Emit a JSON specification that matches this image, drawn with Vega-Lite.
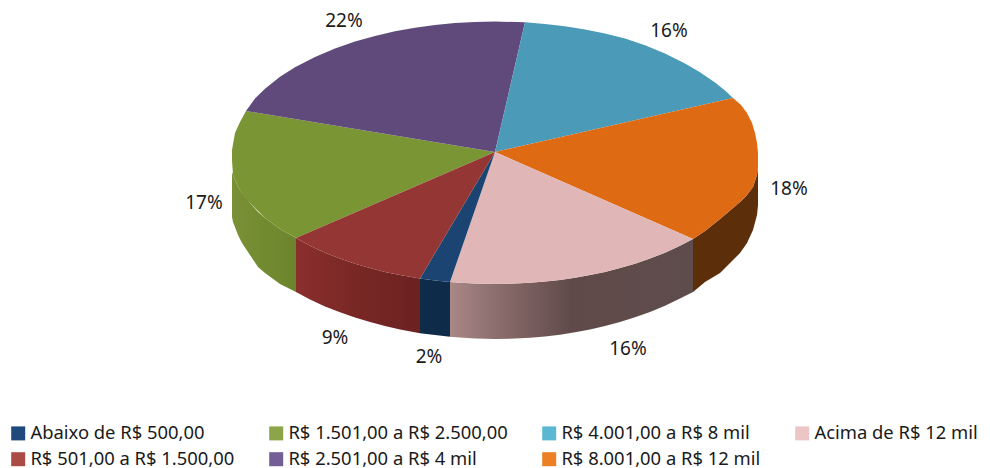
{
"$schema":"https://vega.github.io/schema/vega-lite/v6.json",
"width":990,"height":468,"autosize":{"type":"none"},"padding":0,"background":"white",
"config":{"view":{"stroke":null},"font":"Noto Sans"},
"datasets":{
"slices":[
{"slice":"Abaixo de R$ 500,00","pct":"2%","lx":429,"ly":357},
{"slice":"R$ 1.501,00 a R$ 2.500,00","pct":"17%","lx":204,"ly":203},
{"slice":"R$ 4.001,00 a R$ 8 mil","pct":"16%","lx":669,"ly":31},
{"slice":"Acima de R$ 12 mil","pct":"16%","lx":628,"ly":349},
{"slice":"R$ 501,00 a R$ 1.500,00","pct":"9%","lx":335,"ly":338},
{"slice":"R$ 2.501,00 a  R$ 4 mil","pct":"22%","lx":344,"ly":21},
{"slice":"R$ 8.001,00 a R$ 12 mil","pct":"18%","lx":789,"ly":189}
],
"wall":[
{"slice":"green","x":232,"top":172,"bottom":217},
{"slice":"green","x":233,"top":175,"bottom":222},
{"slice":"green","x":238,"top":187,"bottom":235},
{"slice":"green","x":242,"top":193,"bottom":243},
{"slice":"green","x":250,"top":203,"bottom":255},
{"slice":"green","x":258,"top":212,"bottom":267},
{"slice":"green","x":265,"top":218,"bottom":273},
{"slice":"green","x":280,"top":229,"bottom":284},
{"slice":"green","x":296,"top":238,"bottom":292},
{"slice":"red","x":296,"top":238,"bottom":292},
{"slice":"red","x":310,"top":245.8,"bottom":299.4},
{"slice":"red","x":325,"top":252.7,"bottom":306.5},
{"slice":"red","x":340,"top":258.6,"bottom":312.3},
{"slice":"red","x":355,"top":263.7,"bottom":317.5},
{"slice":"red","x":370,"top":268.1,"bottom":322},
{"slice":"red","x":385,"top":271.9,"bottom":326},
{"slice":"red","x":400,"top":275.1,"bottom":329.6},
{"slice":"red","x":420,"top":278.5,"bottom":333.3},
{"slice":"navy","x":420,"top":278.5,"bottom":333.3},
{"slice":"navy","x":435,"top":280.5,"bottom":335},
{"slice":"navy","x":450,"top":282,"bottom":336.8},
{"slice":"pink","x":450,"top":282,"bottom":336.8},
{"slice":"pink","x":460,"top":282.8,"bottom":337.6},
{"slice":"pink","x":475,"top":283.6,"bottom":338.6},
{"slice":"pink","x":495,"top":284,"bottom":339},
{"slice":"pink","x":515,"top":283.6,"bottom":338.6},
{"slice":"pink","x":530,"top":282.8,"bottom":337.8},
{"slice":"pink","x":545,"top":281.6,"bottom":336.6},
{"slice":"pink","x":560,"top":279.9,"bottom":334.7},
{"slice":"pink","x":575,"top":277.7,"bottom":332.2},
{"slice":"pink","x":590,"top":275.1,"bottom":329.4},
{"slice":"pink","x":605,"top":271.9,"bottom":325.9},
{"slice":"pink","x":620,"top":268.1,"bottom":321.9},
{"slice":"pink","x":635,"top":263.7,"bottom":317.2},
{"slice":"pink","x":650,"top":258.6,"bottom":311.9},
{"slice":"pink","x":665,"top":252.7,"bottom":305.7},
{"slice":"pink","x":680,"top":245.8,"bottom":298.6},
{"slice":"pink","x":693,"top":239,"bottom":292},
{"slice":"orange","x":693,"top":239,"bottom":292},
{"slice":"orange","x":705,"top":231,"bottom":282},
{"slice":"orange","x":720,"top":219,"bottom":273},
{"slice":"orange","x":733,"top":208,"bottom":260},
{"slice":"orange","x":740,"top":202,"bottom":253},
{"slice":"orange","x":747,"top":195,"bottom":243},
{"slice":"orange","x":753,"top":187,"bottom":230},
{"slice":"orange","x":757,"top":175,"bottom":215},
{"slice":"orange","x":758,"top":167,"bottom":205}
],
"top":[
{"slice":"R$ 1.501,00 a R$ 2.500,00","o":0,"x":495,"y":152},
{"slice":"R$ 1.501,00 a R$ 2.500,00","o":1,"x":296,"y":238},
{"slice":"R$ 1.501,00 a R$ 2.500,00","o":2,"x":280,"y":229},
{"slice":"R$ 1.501,00 a R$ 2.500,00","o":3,"x":265,"y":218},
{"slice":"R$ 1.501,00 a R$ 2.500,00","o":4,"x":255,"y":208},
{"slice":"R$ 1.501,00 a R$ 2.500,00","o":5,"x":245,"y":198},
{"slice":"R$ 1.501,00 a R$ 2.500,00","o":6,"x":238,"y":187},
{"slice":"R$ 1.501,00 a R$ 2.500,00","o":7,"x":233,"y":175},
{"slice":"R$ 1.501,00 a R$ 2.500,00","o":8,"x":232,"y":160},
{"slice":"R$ 1.501,00 a R$ 2.500,00","o":9,"x":232,"y":150},
{"slice":"R$ 1.501,00 a R$ 2.500,00","o":10,"x":235,"y":133},
{"slice":"R$ 1.501,00 a R$ 2.500,00","o":11,"x":240,"y":122},
{"slice":"R$ 1.501,00 a R$ 2.500,00","o":12,"x":246,"y":111},
{"slice":"R$ 1.501,00 a R$ 2.500,00","o":13,"x":495,"y":152},
{"slice":"R$ 2.501,00 a  R$ 4 mil","o":0,"x":495,"y":152},
{"slice":"R$ 2.501,00 a  R$ 4 mil","o":1,"x":246,"y":111},
{"slice":"R$ 2.501,00 a  R$ 4 mil","o":2,"x":255,"y":98.6},
{"slice":"R$ 2.501,00 a  R$ 4 mil","o":3,"x":265,"y":88.7},
{"slice":"R$ 2.501,00 a  R$ 4 mil","o":4,"x":280,"y":76.8},
{"slice":"R$ 2.501,00 a  R$ 4 mil","o":5,"x":295,"y":67.3},
{"slice":"R$ 2.501,00 a  R$ 4 mil","o":6,"x":315,"y":56.9},
{"slice":"R$ 2.501,00 a  R$ 4 mil","o":7,"x":335,"y":48.4},
{"slice":"R$ 2.501,00 a  R$ 4 mil","o":8,"x":355,"y":41.5},
{"slice":"R$ 2.501,00 a  R$ 4 mil","o":9,"x":375,"y":35.9},
{"slice":"R$ 2.501,00 a  R$ 4 mil","o":10,"x":395,"y":31.3},
{"slice":"R$ 2.501,00 a  R$ 4 mil","o":11,"x":415,"y":27.7},
{"slice":"R$ 2.501,00 a  R$ 4 mil","o":12,"x":435,"y":24.9},
{"slice":"R$ 2.501,00 a  R$ 4 mil","o":13,"x":455,"y":23},
{"slice":"R$ 2.501,00 a  R$ 4 mil","o":14,"x":475,"y":21.9},
{"slice":"R$ 2.501,00 a  R$ 4 mil","o":15,"x":495,"y":21.5},
{"slice":"R$ 2.501,00 a  R$ 4 mil","o":16,"x":525,"y":22.3},
{"slice":"R$ 2.501,00 a  R$ 4 mil","o":17,"x":495,"y":152},
{"slice":"R$ 4.001,00 a R$ 8 mil","o":0,"x":495,"y":152},
{"slice":"R$ 4.001,00 a R$ 8 mil","o":1,"x":525,"y":22.3},
{"slice":"R$ 4.001,00 a R$ 8 mil","o":2,"x":545,"y":23.9},
{"slice":"R$ 4.001,00 a R$ 8 mil","o":3,"x":565,"y":26.2},
{"slice":"R$ 4.001,00 a R$ 8 mil","o":4,"x":585,"y":29.4},
{"slice":"R$ 4.001,00 a R$ 8 mil","o":5,"x":605,"y":33.5},
{"slice":"R$ 4.001,00 a R$ 8 mil","o":6,"x":625,"y":38.6},
{"slice":"R$ 4.001,00 a R$ 8 mil","o":7,"x":645,"y":45.3},
{"slice":"R$ 4.001,00 a R$ 8 mil","o":8,"x":665,"y":53.4},
{"slice":"R$ 4.001,00 a R$ 8 mil","o":9,"x":685,"y":63.5},
{"slice":"R$ 4.001,00 a R$ 8 mil","o":10,"x":700,"y":72.3},
{"slice":"R$ 4.001,00 a R$ 8 mil","o":11,"x":715,"y":82.5},
{"slice":"R$ 4.001,00 a R$ 8 mil","o":12,"x":725,"y":90.5},
{"slice":"R$ 4.001,00 a R$ 8 mil","o":13,"x":733,"y":98},
{"slice":"R$ 4.001,00 a R$ 8 mil","o":14,"x":495,"y":152},
{"slice":"R$ 8.001,00 a R$ 12 mil","o":0,"x":495,"y":152},
{"slice":"R$ 8.001,00 a R$ 12 mil","o":1,"x":733,"y":98},
{"slice":"R$ 8.001,00 a R$ 12 mil","o":2,"x":741,"y":105},
{"slice":"R$ 8.001,00 a R$ 12 mil","o":3,"x":747,"y":113},
{"slice":"R$ 8.001,00 a R$ 12 mil","o":4,"x":752,"y":123},
{"slice":"R$ 8.001,00 a R$ 12 mil","o":5,"x":755,"y":133},
{"slice":"R$ 8.001,00 a R$ 12 mil","o":6,"x":757,"y":143},
{"slice":"R$ 8.001,00 a R$ 12 mil","o":7,"x":758,"y":153},
{"slice":"R$ 8.001,00 a R$ 12 mil","o":8,"x":758,"y":167},
{"slice":"R$ 8.001,00 a R$ 12 mil","o":9,"x":757,"y":175},
{"slice":"R$ 8.001,00 a R$ 12 mil","o":10,"x":753,"y":187},
{"slice":"R$ 8.001,00 a R$ 12 mil","o":11,"x":747,"y":195},
{"slice":"R$ 8.001,00 a R$ 12 mil","o":12,"x":740,"y":202},
{"slice":"R$ 8.001,00 a R$ 12 mil","o":13,"x":733,"y":208},
{"slice":"R$ 8.001,00 a R$ 12 mil","o":14,"x":720,"y":219},
{"slice":"R$ 8.001,00 a R$ 12 mil","o":15,"x":705,"y":231},
{"slice":"R$ 8.001,00 a R$ 12 mil","o":16,"x":693,"y":239},
{"slice":"R$ 8.001,00 a R$ 12 mil","o":17,"x":495,"y":152},
{"slice":"Acima de R$ 12 mil","o":0,"x":495,"y":152},
{"slice":"Acima de R$ 12 mil","o":1,"x":693,"y":239},
{"slice":"Acima de R$ 12 mil","o":2,"x":680,"y":245.8},
{"slice":"Acima de R$ 12 mil","o":3,"x":665,"y":252.7},
{"slice":"Acima de R$ 12 mil","o":4,"x":650,"y":258.6},
{"slice":"Acima de R$ 12 mil","o":5,"x":635,"y":263.7},
{"slice":"Acima de R$ 12 mil","o":6,"x":620,"y":268.1},
{"slice":"Acima de R$ 12 mil","o":7,"x":605,"y":271.9},
{"slice":"Acima de R$ 12 mil","o":8,"x":590,"y":275.1},
{"slice":"Acima de R$ 12 mil","o":9,"x":575,"y":277.7},
{"slice":"Acima de R$ 12 mil","o":10,"x":560,"y":279.9},
{"slice":"Acima de R$ 12 mil","o":11,"x":545,"y":281.6},
{"slice":"Acima de R$ 12 mil","o":12,"x":530,"y":282.8},
{"slice":"Acima de R$ 12 mil","o":13,"x":515,"y":283.6},
{"slice":"Acima de R$ 12 mil","o":14,"x":495,"y":284},
{"slice":"Acima de R$ 12 mil","o":15,"x":475,"y":283.6},
{"slice":"Acima de R$ 12 mil","o":16,"x":460,"y":282.8},
{"slice":"Acima de R$ 12 mil","o":17,"x":450,"y":282},
{"slice":"Acima de R$ 12 mil","o":18,"x":495,"y":152},
{"slice":"Abaixo de R$ 500,00","o":0,"x":495,"y":152},
{"slice":"Abaixo de R$ 500,00","o":1,"x":450,"y":282},
{"slice":"Abaixo de R$ 500,00","o":2,"x":435,"y":280.5},
{"slice":"Abaixo de R$ 500,00","o":3,"x":420,"y":278.5},
{"slice":"Abaixo de R$ 500,00","o":4,"x":495,"y":152},
{"slice":"R$ 501,00 a R$ 1.500,00","o":0,"x":495,"y":152},
{"slice":"R$ 501,00 a R$ 1.500,00","o":1,"x":420,"y":278.5},
{"slice":"R$ 501,00 a R$ 1.500,00","o":2,"x":400,"y":275.1},
{"slice":"R$ 501,00 a R$ 1.500,00","o":3,"x":385,"y":271.9},
{"slice":"R$ 501,00 a R$ 1.500,00","o":4,"x":370,"y":268.1},
{"slice":"R$ 501,00 a R$ 1.500,00","o":5,"x":355,"y":263.7},
{"slice":"R$ 501,00 a R$ 1.500,00","o":6,"x":340,"y":258.6},
{"slice":"R$ 501,00 a R$ 1.500,00","o":7,"x":325,"y":252.7},
{"slice":"R$ 501,00 a R$ 1.500,00","o":8,"x":310,"y":245.8},
{"slice":"R$ 501,00 a R$ 1.500,00","o":9,"x":296,"y":238},
{"slice":"R$ 501,00 a R$ 1.500,00","o":10,"x":495,"y":152}
]
},
"encoding":{
"x":{"type":"quantitative","scale":{"domain":[0,990],"nice":false,"zero":false},"axis":null},
"y":{"type":"quantitative","scale":{"domain":[468,0],"nice":false,"zero":false},"axis":null}
},
"layer":[
{"data":{"name":"wall"},"transform":[{"filter":"datum.slice==='green'"}],
 "mark":{"type":"area","color":{"gradient":"linear","x1":0,"x2":1,"y1":0,"y2":0,"stops":[{"offset":0,"color":"#7A9038"},{"offset":0.4,"color":"#748C30"},{"offset":1,"color":"#6C842D"}]}},
 "encoding":{"x":{"field":"x","type":"quantitative"},"y":{"field":"top","type":"quantitative"},"y2":{"field":"bottom"}}},
{"data":{"name":"wall"},"transform":[{"filter":"datum.slice==='red'"}],
 "mark":{"type":"area","color":{"gradient":"linear","x1":0,"x2":1,"y1":0,"y2":0,"stops":[{"offset":0,"color":"#8A2F2D"},{"offset":0.5,"color":"#782725"},{"offset":1,"color":"#6B2221"}]}},
 "encoding":{"x":{"field":"x","type":"quantitative"},"y":{"field":"top","type":"quantitative"},"y2":{"field":"bottom"}}},
{"data":{"name":"wall"},"transform":[{"filter":"datum.slice==='navy'"}],
 "mark":{"type":"area","color":"#0F2B4A"},
 "encoding":{"x":{"field":"x","type":"quantitative"},"y":{"field":"top","type":"quantitative"},"y2":{"field":"bottom"}}},
{"data":{"name":"wall"},"transform":[{"filter":"datum.slice==='pink'"}],
 "mark":{"type":"area","color":{"gradient":"linear","x1":0,"x2":1,"y1":0,"y2":0,"stops":[{"offset":0,"color":"#A98887"},{"offset":0.2,"color":"#8A6C6C"},{"offset":0.5,"color":"#604A49"},{"offset":1,"color":"#5E4C4C"}]}},
 "encoding":{"x":{"field":"x","type":"quantitative"},"y":{"field":"top","type":"quantitative"},"y2":{"field":"bottom"}}},
{"data":{"name":"wall"},"transform":[{"filter":"datum.slice==='orange'"}],
 "mark":{"type":"area","color":"#5C2E09"},
 "encoding":{"x":{"field":"x","type":"quantitative"},"y":{"field":"top","type":"quantitative"},"y2":{"field":"bottom"}}},
{"data":{"name":"top"},
 "mark":{"type":"line","filled":true,"strokeWidth":0.5,"strokeJoin":"round"},
 "encoding":{
  "x":{"field":"x","type":"quantitative"},"y":{"field":"y","type":"quantitative"},
  "order":{"field":"o","type":"quantitative"},
  "fill":{"field":"slice","type":"nominal","legend":null,"scale":{"domain":["Acima de R$ 12 mil","R$ 8.001,00 a R$ 12 mil","R$ 4.001,00 a R$ 8 mil","R$ 2.501,00 a  R$ 4 mil","R$ 1.501,00 a R$ 2.500,00","R$ 501,00 a R$ 1.500,00","Abaixo de R$ 500,00"],"range":["#E0B7B6","#DE6A13","#4A9AB8","#604A7B","#7A9634","#943634","#1C4473"]}}
 }},
{"data":{"name":"slices"},
 "mark":{"type":"point","filled":true,"shape":"square","size":0},
 "encoding":{
  "x":{"field":"lx","type":"quantitative"},"y":{"field":"ly","type":"quantitative"},
  "color":{"field":"slice","type":"nominal","sort":null,
   "scale":{"domain":["Abaixo de R$ 500,00","R$ 501,00 a R$ 1.500,00","R$ 1.501,00 a R$ 2.500,00","R$ 2.501,00 a  R$ 4 mil","R$ 4.001,00 a R$ 8 mil","R$ 8.001,00 a R$ 12 mil","Acima de R$ 12 mil"],"range":["#1F497D","#AB4B45","#8CA548","#735E96","#5BB8D2","#ED8024","#ECC6C6"]},
   "legend":{"title":null,"orient":"none","legendX":9,"legendY":424,"columns":4,"symbolType":"square","symbolSize":196,"symbolStrokeWidth":0,"symbolOpacity":1,"labelFontSize":18.4,"labelFont":"Noto Sans","labelColor":"#1a1a1a","labelLimit":400,"labelOffset":3,"columnPadding":32,"rowPadding":7,"padding":0}
  }
 }},
{"data":{"name":"slices"},
 "mark":{"type":"text","fontSize":19,"font":"Noto Sans","color":"#1a1a1a","align":"center","baseline":"middle"},
 "encoding":{"x":{"field":"lx","type":"quantitative"},"y":{"field":"ly","type":"quantitative"},"text":{"field":"pct"}}}
]
}
